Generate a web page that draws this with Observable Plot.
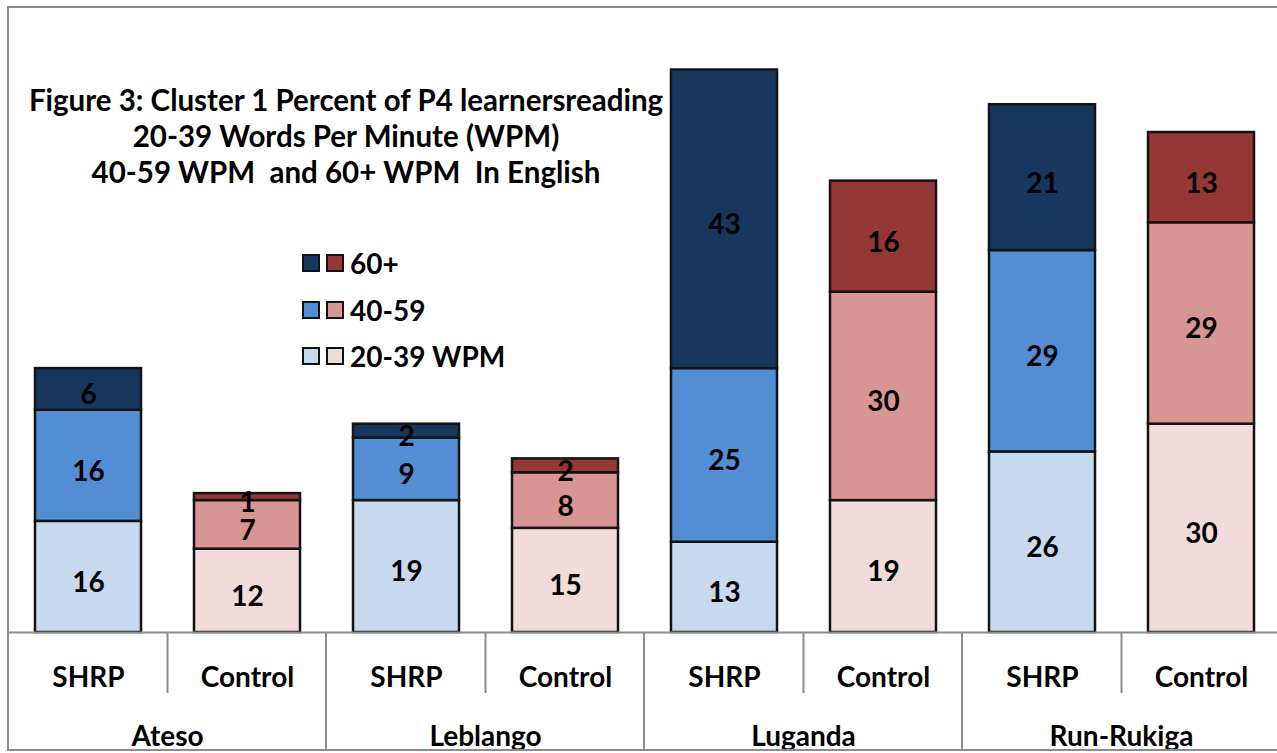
<!DOCTYPE html>
<html><head><meta charset="utf-8">
<script src="https://cdn.jsdelivr.net/npm/d3@7"></script>
<script src="https://cdn.jsdelivr.net/npm/@observablehq/plot@0.6"></script>
<style>
html,body{margin:0;padding:0;background:#fff;overflow:hidden}
#wrap{position:relative;width:1277px;height:753px;overflow:hidden;font-family:Lato,sans-serif;color:#000}
#chart{position:absolute;left:0;top:0}
#border{position:absolute;left:7px;top:6px;width:1400px;height:745px;border:2px solid #8c8c8c;box-sizing:border-box;pointer-events:none}
#title{position:absolute;left:0;width:692px;top:82px;text-align:center;font-weight:bold;font-size:29.5px;line-height:36px;white-space:nowrap}
#legend{position:absolute;left:302px;top:240px;font-weight:bold;font-size:28px}
.row{display:flex;align-items:center;height:46.5px}
.sw{width:18px;height:18px;border:2px solid #111;box-sizing:border-box;margin-right:6px}
</style></head>
<body>
<div id="wrap">
  <div id="chart"></div>
  <div id="title">Figure 3: Cluster 1 Percent of P4 learnersreading<br>20-39 Words Per Minute (WPM)<br>40-59 WPM&nbsp; and 60+ WPM&nbsp; In English</div>
  <div id="legend"></div>
  <div id="border"></div>
</div>
<script>
const languages = ["Ateso", "Leblango", "Luganda", "Run-Rukiga"];
const conditions = ["SHRP", "Control"];
const bands = ["20-39 WPM", "40-59", "60+"];
const shrp2039 = [16, 19, 13, 26];
const shrp4059 = [16, 9, 25, 29];
const shrp60 = [6, 2, 43, 21];
const control2039 = [12, 15, 19, 30];
const control4059 = [7, 8, 30, 29];
const control60 = [1, 2, 16, 13];
const shrpColors = ["#C6D9EF", "#538ED5", "#17375E"];
const controlColors = ["#F2DCDB", "#D99594", "#953735"];

const series = {SHRP: [shrp2039, shrp4059, shrp60], Control: [control2039, control4059, control60]};
const rows = [];
languages.forEach((lang, i) => conditions.forEach(cond => bands.forEach((band, j) => rows.push({
  language: lang, condition: cond, band, key: cond + "|" + band, value: series[cond][j][i]
}))));
const colorDomain = [...bands.map(b => "SHRP|" + b), ...bands.map(b => "Control|" + b)];
const colorRange = [...shrpColors, ...controlColors];

const chart = Plot.plot({
  width: 1280, height: 753,
  marginTop: 7, marginBottom: 121, marginLeft: 8, marginRight: 0,
  style: {maxWidth: "none", fontFamily: "Lato, sans-serif", background: "transparent", overflow: "visible"},
  fx: {domain: languages, padding: 0},
  x: {domain: conditions, paddingInner: 1/3, paddingOuter: 1/6},
  y: {domain: [0, 90], axis: null},
  color: {domain: colorDomain, range: colorRange},
  marks: [
    Plot.barY(rows, Plot.stackY({fx: "language", x: "condition", y: "value", z: "band", fill: "key", stroke: "#141414", strokeWidth: 2.5})),
    Plot.ruleY([0], {stroke: "#8c8c8c", strokeWidth: 2}),
    Plot.text(rows, Plot.stackY({fx: "language", x: "condition", y: "value", z: "band", text: "value", fill: "#000", fontSize: 28, fontWeight: "bold", dy: 6})),
    Plot.axisX({tickSize: 0, tickPadding: 35, fontSize: 28, fontWeight: "bold", label: null}),
    Plot.axisFx({anchor: "bottom", tickSize: 0, tickPadding: 94, fontSize: 28, fontWeight: "bold", label: null})
  ]
});
document.getElementById("chart").appendChild(chart);

// separators in the category axis area, positioned from Plot's scales
const fxS = chart.scale("fx"), xS = chart.scale("x"), yS = chart.scale("y");
const y0 = yS.apply(0);
const mid = (xS.apply("SHRP") + xS.bandwidth + xS.apply("Control")) / 2 - xS.range[0];
const g = d3.select(chart).append("g").attr("stroke", "#8c8c8c").attr("stroke-width", 2);
languages.forEach(lang => {
  const x0 = fxS.apply(lang);
  g.append("line").attr("x1", x0).attr("x2", x0).attr("y1", y0).attr("y2", 750);
  g.append("line").attr("x1", x0 + mid).attr("x2", x0 + mid).attr("y1", y0).attr("y2", 693);
});

// legend
const legend = d3.select("#legend");
bands.slice().reverse().forEach(band => {
  const j = bands.indexOf(band);
  const row = legend.append("div").attr("class", "row");
  row.append("div").attr("class", "sw").style("background", shrpColors[j]);
  row.append("div").attr("class", "sw").style("background", controlColors[j]);
  row.append("div").text(band);
});
</script>
</body></html>
